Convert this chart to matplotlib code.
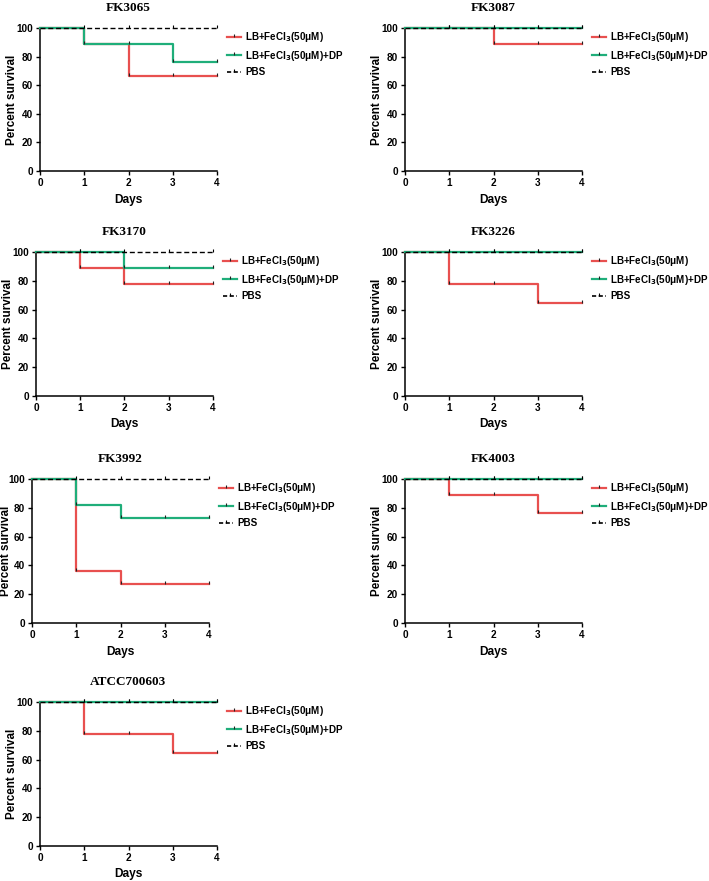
import matplotlib
matplotlib.use("Agg")
import matplotlib.pyplot as plt
from matplotlib.lines import Line2D

NARROW = ['Liberation Sans Narrow', 'Liberation Sans', 'DejaVu Sans']
plt.rcParams['font.family'] = NARROW
plt.rcParams['font.weight'] = 'bold'
plt.rcParams['mathtext.fontset'] = 'custom'
plt.rcParams['mathtext.rm'] = 'Liberation Sans Narrow:bold'
plt.rcParams['mathtext.it'] = 'Liberation Sans Narrow:bold'
plt.rcParams['mathtext.bf'] = 'Liberation Sans Narrow:bold'

# ---------------- data ----------------
titles = ['FK3065', 'FK3087', 'FK3170', 'FK3226', 'FK3992', 'FK4003', 'ATCC700603']
days = [0, 1, 2, 3, 4]
red_surv = [
    [100, 88.9, 66.7, 66.7, 66.7],
    [100, 100, 88.9, 88.9, 88.9],
    [100, 88.9, 77.8, 77.8, 77.8],
    [100, 77.8, 77.8, 64.8, 64.8],
    [100, 36.4, 27.3, 27.3, 27.3],
    [100, 88.9, 88.9, 76.2, 76.2],
    [100, 77.8, 77.8, 64.8, 64.8],
]
green_surv = [
    [100, 88.9, 88.9, 76.2, 76.2],
    [100, 100, 100, 100, 100],
    [100, 100, 88.9, 88.9, 88.9],
    [100, 100, 100, 100, 100],
    [100, 81.8, 72.7, 72.7, 72.7],
    [100, 100, 100, 100, 100],
    [100, 100, 100, 100, 100],
]
pbs_surv = [100, 100, 100, 100, 100]
series_labels = ['LB+FeCl$_{3}$(50μM)', 'LB+FeCl$_{3}$(50μM)+DP', 'PBS']
xticks = [0, 1, 2, 3, 4]
yticks = [0, 20, 40, 60, 80, 100]

# ---------------- layout (pixels: left, right, top, bottom) ----------------
W, H = 709, 881
boxes = [
    (40, 217, 28, 171),
    (405, 582, 28, 171),
    (36, 213, 252, 396),
    (405, 582, 252, 396),
    (32, 209, 479, 623),
    (405, 582, 479, 623),
    (40, 217, 702, 846),
]
RED = '#e8504f'
GREEN = '#1fae7a'
tick_marker = [(0, 0), (0, 1)]
pbs_dash = (0, (3.6, 2.0))

fig = plt.figure(figsize=(W / 100, H / 100), dpi=100)

for i, (l, r, t, b) in enumerate(boxes):
    ax = fig.add_axes([l / W, 1 - b / H, (r - l) / W, (b - t) / H])
    rs, gs = red_surv[i], green_surv[i]
    ax.step(days, rs, where='post', color=RED, lw=1.6, zorder=3, clip_on=False)
    ax.plot(days[1:], rs[1:], ls='none', marker=tick_marker, ms=5, mew=0.8,
            color='#222222', zorder=4, clip_on=False)
    ax.step(days, gs, where='post', color=GREEN, lw=1.6, zorder=5, clip_on=False)
    ax.plot(days[1:], gs[1:], ls='none', marker=tick_marker, ms=5, mew=0.8,
            color='#222222', zorder=6, clip_on=False)
    ax.step(days, pbs_surv, where='post', color='black', lw=1.0, ls=pbs_dash,
            zorder=7, clip_on=False)
    ax.plot(days[1:], pbs_surv[1:], ls='none', marker=tick_marker, ms=5, mew=0.8,
            color='black', zorder=8, clip_on=False)

    ax.set_xlim(0, 4)
    ax.set_ylim(0, 100)
    ax.set_xticks(xticks)
    ax.set_yticks(yticks)
    for s in ['top', 'right']:
        ax.spines[s].set_visible(False)
    for s in ['left', 'bottom']:
        ax.spines[s].set_linewidth(1.1)
    ax.tick_params(axis='both', direction='out', length=3, width=1.0,
                   labelsize=7.2, pad=2)
    for lab in ax.get_xticklabels() + ax.get_yticklabels():
        lab.set_fontweight('bold')
    ax.set_xlabel('Days', fontsize=8.6, fontweight='bold', labelpad=4)
    ax.set_ylabel('Percent survival', fontsize=8.4, fontweight='bold',
                  family=['Liberation Sans', 'DejaVu Sans'])
    # right edge of the y label, in pixels left of the axis line
    off = min(22, l - 12)
    ax.yaxis.set_label_coords(-off / (r - l), 0.5)
    ax.set_title(titles[i], fontsize=9.5, fontweight='bold',
                 family=['Liberation Serif', 'DejaVu Serif'], pad=12)

    handles = [
        Line2D([], [], color=RED, lw=1.6, marker=tick_marker, ms=5, mew=0.8,
               mec='#222222'),
        Line2D([], [], color=GREEN, lw=1.6, marker=tick_marker, ms=5, mew=0.8,
               mec='#222222'),
        Line2D([], [], color='black', lw=1.2, ls=(0, (2.5, 1.5)),
               marker=tick_marker, ms=5, mew=0.8, mec='black'),
    ]
    ax.legend(handles, series_labels, loc='upper left',
              bbox_to_anchor=(1 + 10 / (r - l), 0.985), frameon=False,
              fontsize=7.1, handlelength=1.4, handletextpad=0.45,
              labelspacing=0.45, borderpad=0, borderaxespad=0, numpoints=1)

fig.savefig('out.png', dpi=100)
